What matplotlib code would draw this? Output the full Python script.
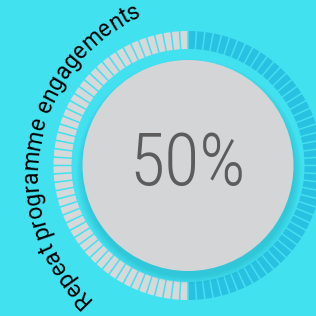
import numpy as np
import matplotlib.pyplot as plt
from matplotlib.patches import Wedge, Circle
from matplotlib.font_manager import FontProperties

# Dados do indicador
valor = 50                      # percentual exibido no centro
total_segmentos = 100           # quantidade de "tracinhos" do anel
rotulo = "Repeat programme engagements"
texto_centro = f"{valor}%"

# Cores
cor_fundo = '#42e1f0'
cor_ativo = '#28c1e2'
cor_inativo = '#d7d8da'
cor_circulo = '#d4d5d7'
cor_sombra = '#0b8ea8'
cor_numero = '#5c5c5c'

fig = plt.figure(figsize=(3.16, 3.16), dpi=100)
fig.patch.set_facecolor(cor_fundo)
ax = fig.add_axes([0, 0, 1, 1])
ax.set_xlim(0, 316)
ax.set_ylim(0, 316)
ax.set_aspect('equal')
ax.axis('off')

cx, cy = 188, 150.5   # centro do medidor
r_ext, largura = 134.5, 18
r_circ = 105.5

'''
    Anel segmentado
'''
passo = 360 / total_segmentos
folga = 0.7
n_ativos = round(valor / 100 * total_segmentos)
for i in range(total_segmentos):
    fim = 90 - i * passo
    ini = fim - passo
    cor = cor_ativo if i < n_ativos else cor_inativo
    ax.add_patch(Wedge((cx, cy), r_ext, ini + folga / 2, fim - folga / 2,
                       width=largura, facecolor=cor, edgecolor='none'))

'''
    Circulo central com sombra
'''
for k in range(8):
    ax.add_patch(Circle((cx + 1, cy - 6), r_circ + 7 - k, facecolor=cor_sombra,
                        edgecolor='none', alpha=0.04))
ax.add_patch(Circle((cx, cy), r_circ, facecolor=cor_circulo, edgecolor='none'))

ax.text(cx, cy, texto_centro, ha='center', va='center', color=cor_numero,
        fontsize=52, family=['Roboto Condensed', 'Roboto'], fontstretch='condensed',
        weight='light')

'''
    Rotulo curvo
'''
tcx, tcy, tr = 210, 142, 172   # circulo do texto
fp = FontProperties(family='Roboto', size=16.5)
renderer = fig.canvas.get_renderer()


def largura_txt(s):
    w, _, _ = renderer.get_text_width_height_descent(s + '|', fp, ismath=False)
    w0, _, _ = renderer.get_text_width_height_descent('|', fp, ismath=False)
    return w - w0


inicios = [largura_txt(rotulo[:i]) for i in range(len(rotulo) + 1)]
total = inicios[-1]
ang_meio = np.radians(170)
ang_ini = ang_meio + total / 2 / tr   # texto anda no sentido horario

for i, c in enumerate(rotulo):
    if c == ' ':
        continue
    s = (inicios[i] + inicios[i + 1]) / 2
    phi = ang_ini - s / tr
    x = tcx + tr * np.cos(phi)
    y = tcy + tr * np.sin(phi)
    ax.text(x, y, c, fontproperties=fp, color='black', ha='center', va='baseline',
            rotation=np.degrees(phi) - 90, rotation_mode='anchor')

fig.savefig('out.png', dpi=100, facecolor=cor_fundo)
